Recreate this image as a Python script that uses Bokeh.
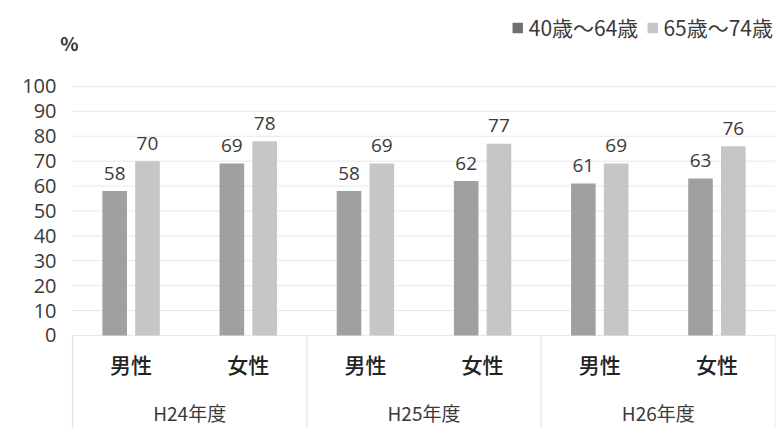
from bokeh.plotting import figure
from bokeh.models import (ColumnDataSource, Legend, LegendItem,
                          FixedTicker, Range1d)
from bokeh.core.properties import value
from bokeh.embed import file_html
from bokeh.resources import INLINE

# ---- data ----
years = ["H24年度", "H25年度", "H26年度"]
sexes = ["男性", "女性"]
series_names = ["40歳～64歳", "65歳～74歳"]
age_40_64 = [58, 69, 58, 62, 61, 63]
age_65_74 = [70, 78, 69, 77, 69, 76]
y_ticks = [0, 10, 20, 30, 40, 50, 60, 70, 80, 90, 100]
y_unit = "%"

DARK = "#a0a0a0"
LIGHT = "#c6c6c6"
TXT = "#3a3a3a"

# ---- layout (pixels) ----
W, H = 778, 436
BL, BR, BT, BB = 58, 3, 10, 3
GROUP_PX = 703.0                    # width spanned by the category slots
n_slots = len(years) * len(sexes)
unit_px = GROUP_PX / n_slots
frame_w = W - BL - BR
x_start = -(frame_w - GROUP_PX) / unit_px

# slot centres on the x scale, one per (year, sex)
slot = [i * len(sexes) + j + 0.5 for i in range(len(years)) for j in range(len(sexes))]
sub_lab = [s for _ in years for s in sexes]
year_ctr = [i * len(sexes) + len(sexes) / 2 for i in range(len(years))]

p = figure(width=W, height=H,
           x_range=Range1d(x_start, n_slots),
           y_range=Range1d(-39.4, 130.5),
           x_axis_location=None,
           output_backend="svg", toolbar_location=None,
           min_border_left=BL, min_border_right=BR,
           min_border_top=BT, min_border_bottom=BB)
p.outline_line_color = None
p.background_fill_color = "white"
p.border_fill_color = "white"

# y axis
p.yaxis.ticker = FixedTicker(ticks=y_ticks)
p.yaxis.axis_line_color = None
p.yaxis.major_tick_line_color = None
p.yaxis.minor_tick_line_color = None
p.yaxis.major_tick_out = 0
p.yaxis.major_tick_in = 0
p.yaxis.major_label_standoff = 2
p.yaxis.major_label_text_font = "Open Sans"
p.yaxis.major_label_text_font_size = "20px"
p.yaxis.major_label_text_color = TXT
p.xgrid.visible = False
p.ygrid.visible = False

# horizontal gridlines spanning the category area
p.segment(x0=[0] * len(y_ticks), x1=[n_slots] * len(y_ticks),
          y0=y_ticks, y1=y_ticks, line_color="#e8e8e8", line_width=1)

off = 0.14
bw = 0.21
src = ColumnDataSource(dict(
    xa=[s - off for s in slot], xb=[s + off for s in slot], xc=slot,
    a=age_40_64, b=age_65_74,
    la=[str(v) for v in age_40_64],
    lb=[str(v) for v in age_65_74],
    sub=sub_lab,
))

r_a = p.vbar(x='xa', top='a', width=bw, fill_color=DARK, line_color=None, source=src)
r_b = p.vbar(x='xb', top='b', width=bw, fill_color=LIGHT, line_color=None, source=src)

for xcol, col, lab in (("xa", "a", "la"), ("xb", "b", "lb")):
    p.text(x=xcol, y=col, text=lab, source=src,
           text_align="center", text_baseline="alphabetic", y_offset=-18,
           text_font=value("Open Sans"), text_font_size="19px", text_color=TXT)

# sub-category labels
p.text(x='xc', y=-11.6, text='sub', source=src, text_align="center",
       text_baseline="middle", text_font=value("Noto Sans CJK JP Medium"),
       text_font_size="21px", text_color="#222")

# group labels
gsrc = ColumnDataSource(dict(x=year_ctr, t=years))
p.text(x='x', y=-30.9, text='t', source=gsrc, text_align="center",
       text_baseline="middle", text_font=value("Noto Sans CJK JP"),
       text_font_size="19px", text_color=TXT)

# group separators
bounds = [i * len(sexes) for i in range(len(years) + 1)]
p.segment(x0=bounds, y0=[0] * len(bounds), x1=bounds, y1=[-37] * len(bounds),
          line_color="#e2e2e2", line_width=1.2)

# y unit label
p.text(x=[-0.026], y=[117.7], text=[y_unit], text_align="center",
       text_baseline="middle", text_font=value("Noto Sans CJK JP"),
       text_font_size="19px", text_font_style="bold", text_color="#333")

# legend swatch renderers (zero-height, invisible on the chart)
r1 = p.vbar(x=[slot[0]], top=[0], bottom=[0], width=bw,
            fill_color="#707070", line_color=None)
r2 = p.vbar(x=[slot[0]], top=[0], bottom=[0], width=bw,
            fill_color=LIGHT, line_color=None)
legend = Legend(items=[LegendItem(label=series_names[0], renderers=[r1]),
                       LegendItem(label=series_names[1], renderers=[r2])],
                orientation="horizontal", location="top_right",
                border_line_color=None, background_fill_alpha=0,
                glyph_width=13, glyph_height=13, label_standoff=5,
                spacing=7, padding=0, margin=2,
                label_text_font="Noto Sans CJK JP",
                label_text_font_size="21px", label_text_color=TXT)
p.add_layout(legend)

open("out.html", "w").write(file_html(p, INLINE))
